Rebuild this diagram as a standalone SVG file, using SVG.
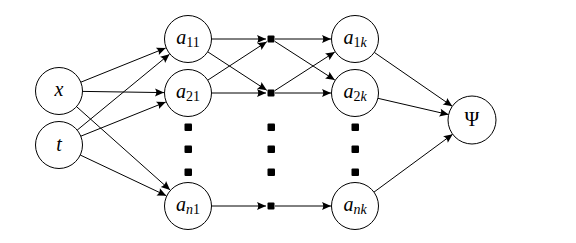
<svg xmlns="http://www.w3.org/2000/svg" width="576" height="243" viewBox="0 0 576 243">
<style>
.n{fill:#fff;stroke:#000;stroke-width:1}
.e{stroke:#000;stroke-width:1;fill:none;marker-end:url(#ah)}
.t{font-family:"Liberation Serif","DejaVu Serif",serif;font-style:italic;font-size:20px;fill:#000;text-anchor:middle}
.s{font-size:14px;font-style:normal}
.si{font-size:14px;font-style:italic}
.d{fill:#000}
</style>
<defs>
<marker id="ah" viewBox="-10 -5 11 10" refX="0" refY="0" markerWidth="11" markerHeight="10" markerUnits="userSpaceOnUse" orient="auto">
<path d="M0,0 L-9,-4 Q-6.5,0 -9,4 Z" fill="#000"/>
</marker>
</defs>
<g id="connectors">
<line class="e" x1="80.8" y1="82.2" x2="165.7" y2="48"/>
<line class="e" x1="82.5" y1="91.4" x2="164" y2="92.6"/>
<line class="e" x1="76.5" y1="106.6" x2="170.1" y2="190"/>
<line class="e" x1="77.2" y1="130.1" x2="169.5" y2="54.2"/>
<line class="e" x1="80.8" y1="136.2" x2="165.8" y2="102"/>
<line class="e" x1="80.2" y1="155" x2="166.3" y2="195.7"/>
<line class="e" x1="211.5" y1="39" x2="266" y2="39"/>
<line class="e" x1="207.7" y1="51.8" x2="266.8" y2="90.3"/>
<line class="e" x1="207.7" y1="80.2" x2="266.8" y2="41.7"/>
<line class="e" x1="211.5" y1="93" x2="266" y2="93"/>
<line class="e" x1="211.5" y1="206" x2="266" y2="206"/>
<line class="e" x1="275" y1="39" x2="331" y2="39"/>
<line class="e" x1="275" y1="41.5" x2="334.8" y2="80"/>
<line class="e" x1="275" y1="90.5" x2="334.8" y2="52"/>
<line class="e" x1="275" y1="93" x2="331" y2="93"/>
<line class="e" x1="275" y1="206" x2="331" y2="206"/>
<line class="e" x1="374.3" y1="52.4" x2="452.3" y2="106.3"/>
<line class="e" x1="377.9" y1="98.3" x2="448.6" y2="114.6"/>
<line class="e" x1="374" y1="192.1" x2="452.7" y2="134.2"/>
</g>
<g id="x"><circle class="n" cx="59" cy="91" r="23.5"/><text class="t" x="59" y="96">x</text></g>
<g id="t"><circle class="n" cx="59" cy="145" r="23.5"/><text class="t" x="59" y="151">t</text></g>
<g id="a11"><circle class="n" cx="188" cy="39" r="23.5"/><text class="t" x="188" y="44">a<tspan class="s" dy="3">11</tspan></text></g>
<g id="a21"><circle class="n" cx="188" cy="93" r="23.5"/><text class="t" x="188" y="98">a<tspan class="s" dy="3">21</tspan></text></g>
<g id="an1"><circle class="n" cx="188" cy="206" r="23.5"/><text class="t" x="188" y="211">a<tspan class="si" dy="3">n</tspan><tspan class="s">1</tspan></text></g>
<g id="dot1"><rect class="d" x="267.5" y="35.5" width="7" height="7" rx="1"/></g>
<g id="dot2"><rect class="d" x="267.5" y="89.5" width="7" height="7" rx="1"/></g>
<g id="dotn"><rect class="d" x="267.5" y="202.5" width="7" height="7" rx="1"/></g>
<g id="a1k"><circle class="n" cx="355" cy="39" r="23.5"/><text class="t" x="355" y="44">a<tspan class="s" dy="3">1</tspan><tspan class="si">k</tspan></text></g>
<g id="a2k"><circle class="n" cx="355" cy="93" r="23.5"/><text class="t" x="355" y="98">a<tspan class="s" dy="3">2</tspan><tspan class="si">k</tspan></text></g>
<g id="ank"><circle class="n" cx="355" cy="206" r="23.5"/><text class="t" x="355" y="211">a<tspan class="si" dy="3">nk</tspan></text></g>
<g id="psi"><circle class="n" cx="472" cy="120" r="24"/><text class="t" x="472" y="126" style="font-style:normal">Ψ</text></g>
<g id="vdots">
<rect class="d" x="184.5" y="123.5" width="7.5" height="7.5" rx="1"/>
<rect class="d" x="184.5" y="145.5" width="7.5" height="7.5" rx="1"/>
<rect class="d" x="184.5" y="168.5" width="7.5" height="7.5" rx="1"/>
<rect class="d" x="267.5" y="123.5" width="7.5" height="7.5" rx="1"/>
<rect class="d" x="267.5" y="145.5" width="7.5" height="7.5" rx="1"/>
<rect class="d" x="267.5" y="168.5" width="7.5" height="7.5" rx="1"/>
<rect class="d" x="351.5" y="123.5" width="7.5" height="7.5" rx="1"/>
<rect class="d" x="351.5" y="145.5" width="7.5" height="7.5" rx="1"/>
<rect class="d" x="351.5" y="168.5" width="7.5" height="7.5" rx="1"/>
</g>
</svg>
